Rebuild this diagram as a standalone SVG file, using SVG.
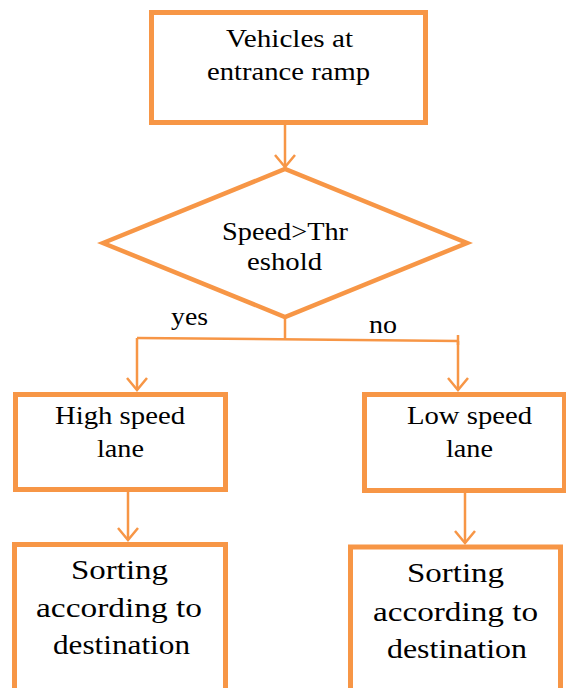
<svg xmlns="http://www.w3.org/2000/svg" width="566" height="688" viewBox="0 0 566 688">
<style>
.box{fill:#fff;stroke:#F79646;stroke-width:5}
.dia{fill:#fff;stroke:#F79646;stroke-width:4.5;stroke-linejoin:miter}
.con{fill:none;stroke:#F79646;stroke-width:2.5}
.t{fill:#000;text-anchor:middle}
.m{font-size:25px}
.b{font-size:28px}
</style>
<defs>
<marker id="arr" markerUnits="userSpaceOnUse" markerWidth="24" markerHeight="24" refX="14" refY="10" orient="auto" viewBox="0 0 24 20">
<path d="M2,0 L14,10 L2,20" fill="none" stroke="#F79646" stroke-width="2.5"/>
</marker>
</defs>
<rect width="566" height="688" fill="#fff"/>
<g id="connectors" font-family="'Liberation Serif', serif">
<line class="con" x1="285" y1="125" x2="285" y2="167" marker-end="url(#arr)"/>
<polyline class="con" points="285,317 285,339"/>
<polyline class="con" points="137,338 458,341"/>
<line class="con" x1="458" y1="335" x2="458" y2="345"/>
<line class="con" x1="137" y1="338" x2="137" y2="390" marker-end="url(#arr)"/>
<line class="con" x1="458" y1="341" x2="458" y2="390" marker-end="url(#arr)"/>
<line class="con" x1="128" y1="492" x2="128" y2="540" marker-end="url(#arr)"/>
<line class="con" x1="465" y1="493" x2="465" y2="543" marker-end="url(#arr)"/>
<text class="t" x="189.5" y="325" font-size="25" textLength="37" lengthAdjust="spacingAndGlyphs">yes</text>
<text class="t" x="383" y="333" font-size="25" textLength="28" lengthAdjust="spacingAndGlyphs">no</text>
</g>
<g id="start" font-family="'Liberation Serif', serif">
<rect class="box" x="151.5" y="12.5" width="274" height="110"/>
<text class="t m" x="289.5" y="47" textLength="127" lengthAdjust="spacingAndGlyphs">Vehicles at</text>
<text class="t m" x="288.5" y="80" textLength="163" lengthAdjust="spacingAndGlyphs">entrance ramp</text>
</g>
<g id="decision" font-family="'Liberation Serif', serif">
<polygon class="dia" points="103,243 285,169 467,243 285,317"/>
<text class="t m" x="285" y="240" textLength="126" lengthAdjust="spacingAndGlyphs">Speed&gt;Thr</text>
<text class="t m" x="284.5" y="270" textLength="75" lengthAdjust="spacingAndGlyphs">eshold</text>
</g>
<g id="high" font-family="'Liberation Serif', serif">
<rect class="box" x="15.5" y="394.5" width="210" height="95"/>
<text class="t m" x="120" y="424" textLength="130" lengthAdjust="spacingAndGlyphs">High speed</text>
<text class="t m" x="120.5" y="457" textLength="47" lengthAdjust="spacingAndGlyphs">lane</text>
</g>
<g id="low" font-family="'Liberation Serif', serif">
<rect class="box" x="364.5" y="394.5" width="200" height="96"/>
<text class="t m" x="469.5" y="424" textLength="125" lengthAdjust="spacingAndGlyphs">Low speed</text>
<text class="t m" x="469.5" y="457" textLength="47" lengthAdjust="spacingAndGlyphs">lane</text>
</g>
<g id="sort-high" font-family="'Liberation Serif', serif">
<rect class="box" x="14.5" y="544.5" width="211" height="160"/>
<text class="t b" x="119.5" y="579" textLength="97" lengthAdjust="spacingAndGlyphs">Sorting</text>
<text class="t b" x="119" y="617" textLength="166" lengthAdjust="spacingAndGlyphs">according to</text>
<text class="t b" x="121.5" y="654" textLength="137" lengthAdjust="spacingAndGlyphs">destination</text>
</g>
<g id="sort-low" font-family="'Liberation Serif', serif">
<rect class="box" x="350.5" y="547" width="210" height="160"/>
<text class="t b" x="455.5" y="582" textLength="97" lengthAdjust="spacingAndGlyphs">Sorting</text>
<text class="t b" x="455.5" y="621" textLength="165" lengthAdjust="spacingAndGlyphs">according to</text>
<text class="t b" x="457" y="658" textLength="140" lengthAdjust="spacingAndGlyphs">destination</text>
</g>
</svg>
